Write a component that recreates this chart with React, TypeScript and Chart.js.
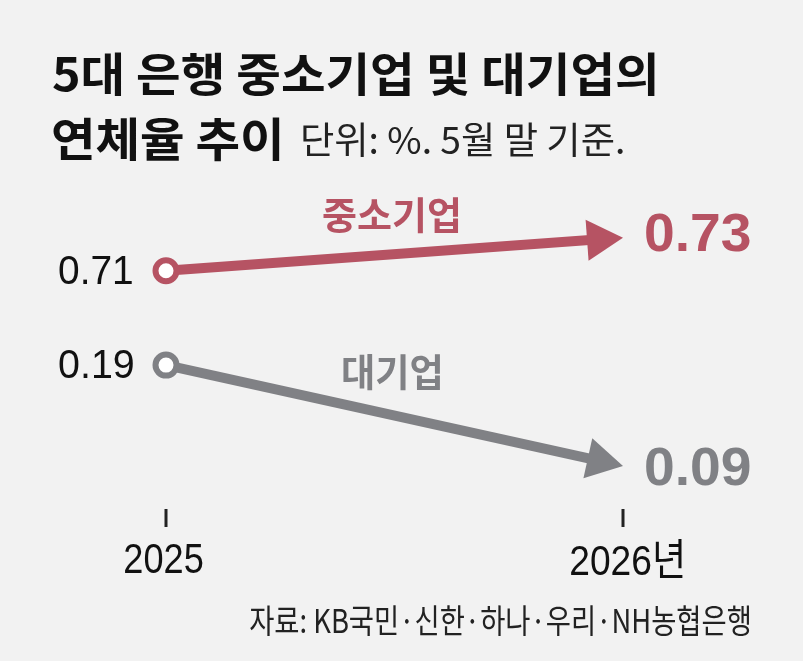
import React, { useEffect, useRef } from "react";
import { Chart, registerables } from "chart.js";

Chart.register(...registerables);

const categories = ["2025", "2026년"];
const seriesNames = ["중소기업", "대기업"];
const smeValues = [0.71, 0.73];
const largeValues = [0.19, 0.09];
const titleLine1 = "5대 은행 중소기업 및 대기업의";
const titleLine2 = "연체율 추이";
const unitText = "단위: %. 5월 말 기준.";
const sourceText = "자료: KB국민·신한·하나·우리·NH농협은행";

const RED = "rgb(182,83,99)";
const GRAY = "rgb(128,129,133)";
const BG = "#f2f2f2";
const KR = '"Noto Sans CJK KR", "Noto Sans", sans-serif';
const LAT = '"Liberation Sans", Arial, sans-serif';

function fitText(
  ctx: CanvasRenderingContext2D,
  text: string,
  font: string,
  color: string,
  left: number,
  right: number,
  cy: number
) {
  ctx.save();
  ctx.font = font;
  ctx.textAlign = "left";
  ctx.textBaseline = "alphabetic";
  const m = ctx.measureText(text);
  const w = m.actualBoundingBoxLeft + m.actualBoundingBoxRight;
  const sx = (right - left) / w;
  const baseline = cy + (m.actualBoundingBoxAscent - m.actualBoundingBoxDescent) / 2;
  ctx.translate(left, baseline);
  ctx.scale(sx, 1);
  ctx.fillStyle = color;
  ctx.fillText(text, m.actualBoundingBoxLeft, 0);
  ctx.restore();
}

const HEAD_LEN = 36;
const HEAD_HALF = 20.5;

const arrowPlugin = {
  id: "arrowPlugin",
  beforeDatasetDraw(chart: any, args: any) {
    const pts = args.meta.data;
    const p1 = pts[pts.length - 1];
    const ctx = chart.ctx;
    ctx.save();
    ctx.beginPath();
    ctx.rect(0, 0, p1.x - 30, chart.height);
    ctx.clip();
  },
  afterDatasetDraw(chart: any, args: any) {
    const ctx = chart.ctx;
    ctx.restore();
    const pts = args.meta.data;
    const p0 = pts[0];
    const p1 = pts[pts.length - 1];
    const ang = Math.atan2(p1.y - p0.y, p1.x - p0.x);
    const bx = p1.x - HEAD_LEN * Math.cos(ang);
    const by = p1.y - HEAD_LEN * Math.sin(ang);
    const nx = -Math.sin(ang) * HEAD_HALF;
    const ny = Math.cos(ang) * HEAD_HALF;
    ctx.save();
    ctx.fillStyle = chart.data.datasets[args.index].borderColor;
    ctx.beginPath();
    ctx.moveTo(p1.x, p1.y);
    ctx.lineTo(bx + nx, by + ny);
    ctx.lineTo(bx - nx, by - ny);
    ctx.closePath();
    ctx.fill();
    ctx.restore();
  },
};

const textPlugin = {
  id: "textPlugin",
  beforeDraw(chart: any) {
    const ctx = chart.ctx;
    ctx.save();
    ctx.fillStyle = BG;
    ctx.fillRect(0, 0, chart.width, chart.height);
    ctx.restore();
  },
  afterDraw(chart: any) {
    const ctx = chart.ctx;
    // titles
    fitText(ctx, titleLine1, `bold 46px ${KR}`, "#111", 53, 655, 74.5);
    fitText(ctx, titleLine2, `bold 46px ${KR}`, "#111", 53, 280, 139);
    fitText(ctx, unitText, `37px ${KR}`, "#222", 303, 623, 139);

    // x ticks & labels
    const xs = chart.scales.x;
    categories.forEach((c, i) => {
      const x = xs.getPixelForValue(i);
      ctx.save();
      ctx.strokeStyle = "#222";
      ctx.lineWidth = 3;
      ctx.beginPath();
      ctx.moveTo(x, 509);
      ctx.lineTo(x, 527);
      ctx.stroke();
      ctx.restore();
    });
    fitText(ctx, categories[0], `43px ${LAT}`, "#111", 125, 203, 558);
    fitText(ctx, categories[1], `43px ${LAT}, ${KR}`, "#111", 571, 683, 558);

    // value labels
    fitText(ctx, smeValues[0].toFixed(2), `41px ${LAT}`, "#111", 59, 132, 270);
    fitText(ctx, largeValues[0].toFixed(2), `41px ${LAT}`, "#111", 59, 133, 364);
    fitText(ctx, smeValues[1].toFixed(2), `bold 53px ${LAT}`, RED, 646, 750, 232);
    fitText(ctx, largeValues[1].toFixed(2), `bold 53px ${LAT}`, GRAY, 646, 750, 466);

    // series names
    fitText(ctx, seriesNames[0], `bold 38px ${KR}`, RED, 323, 458, 215);
    fitText(ctx, seriesNames[1], `bold 38px ${KR}`, GRAY, 343, 440, 372);

    // source
    fitText(ctx, sourceText, `33px ${KR}`, "#222", 250, 749, 621);
  },
};

export default function App() {
  const ref = useRef<HTMLCanvasElement | null>(null);
  useEffect(() => {
    if (!ref.current) return;
    const pointR = (c: any) => (c.dataIndex === 0 ? 10.5 : 0);
    const chart = new Chart(ref.current, {
      type: "line",
      data: {
        labels: categories,
        datasets: [
          {
            label: seriesNames[0],
            data: smeValues,
            yAxisID: "y",
            borderColor: RED,
            borderWidth: 10,
            borderCapStyle: "butt",
            pointRadius: pointR,
            pointHoverRadius: pointR,
            pointBorderWidth: 6,
            pointBackgroundColor: "#ffffff",
            pointBorderColor: RED,
            tension: 0,
            clip: false,
          } as any,
          {
            label: seriesNames[1],
            data: largeValues,
            yAxisID: "y2",
            borderColor: GRAY,
            borderWidth: 10,
            borderCapStyle: "butt",
            pointRadius: pointR,
            pointHoverRadius: pointR,
            pointBorderWidth: 6,
            pointBackgroundColor: "#ffffff",
            pointBorderColor: GRAY,
            tension: 0,
            clip: false,
          } as any,
        ],
      },
      options: {
        animation: false,
        responsive: false,
        devicePixelRatio: 1,
        events: [],
        layout: { padding: { left: 166, right: 180, top: 150, bottom: 152 } },
        scales: {
          x: { type: "category", display: false, offset: false },
          y: { type: "linear", display: false, min: 0.566, max: 0.783 },
          y2: { type: "linear", display: false, min: 0.0475, max: 0.403 },
        },
        plugins: { legend: { display: false }, tooltip: { enabled: false } },
      },
      plugins: [arrowPlugin, textPlugin],
    });
    return () => chart.destroy();
  }, []);
  return (
    <div style={{ position: "fixed", left: 0, top: 0, width: 803, height: 661, background: BG }}>
      <canvas ref={ref} width={803} height={661} style={{ display: "block", width: 803, height: 661 }} />
    </div>
  );
}
